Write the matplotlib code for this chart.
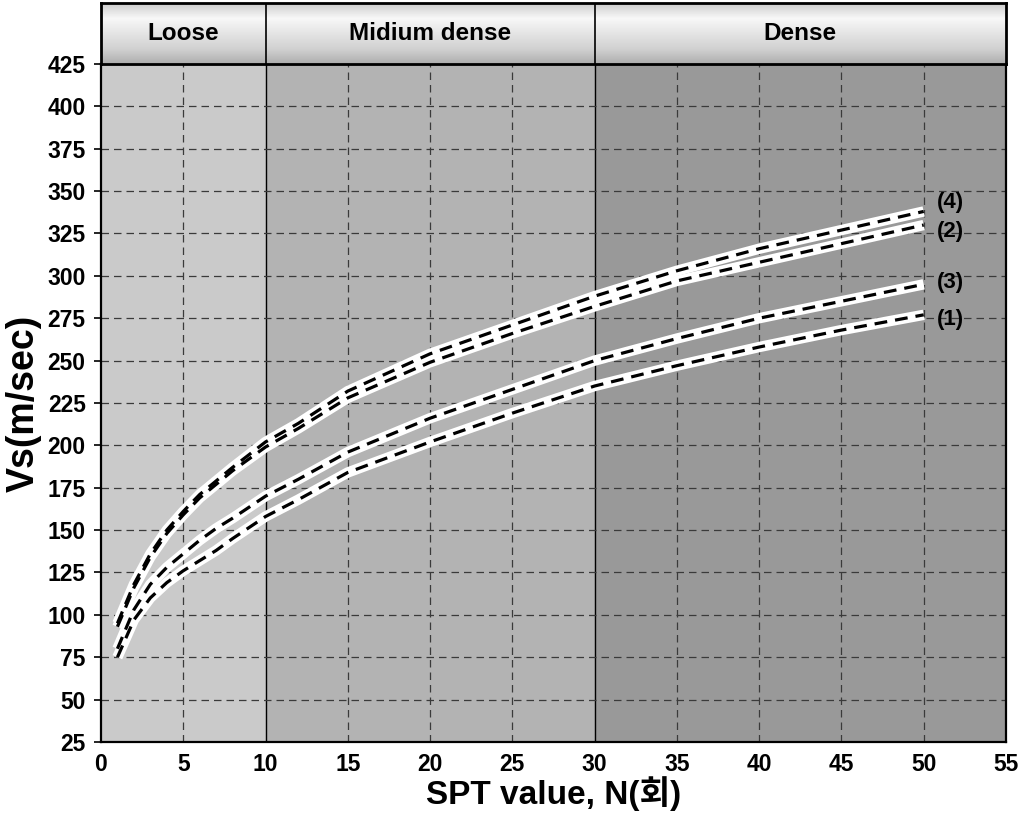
import numpy as np
import matplotlib
matplotlib.use("Agg")
import matplotlib.pyplot as plt

## Data

N = [1, 2, 3, 4, 5, 6, 7, 8, 10, 12, 15, 20, 25, 30, 35, 40, 45, 50]
vs1 = [75, 97, 110, 119, 126, 132, 138, 145, 158, 168, 184, 202, 219, 235, 247, 258, 268, 277]
vs2 = [93, 116, 134, 148, 159, 169, 177, 185, 199, 210, 228, 249, 266, 282, 297, 308, 319, 330]
vs3 = [80, 103, 118, 128, 136, 144, 151, 157, 170, 180, 196, 216, 233, 250, 263, 275, 285, 295]
vs4 = [95, 118, 136, 150, 161, 171, 179, 187, 202, 213, 232, 254, 271, 288, 303, 316, 327, 338]
curve_labels = ["(1)", "(2)", "(3)", "(4)"]
label_y = [274, 326, 296, 343]

zones = ["Loose", "Midium dense", "Dense"]
zone_edges = [0, 10, 30, 55]
zone_colors = ["#cacaca", "#b3b3b3", "#999999"]

plt.rcParams["font.family"] = ["Liberation Sans", "Noto Sans CJK KR", "DejaVu Sans"]

fig = plt.figure(figsize=(10.24, 8.14), dpi=100)
ax = fig.add_axes([0.0986, 0.0885, 0.8838, 0.8329])
hd = fig.add_axes([0.0986, 0.9214, 0.8838, 0.0749])

## zone backgrounds
for i in range(3):
    ax.axvspan(zone_edges[i], zone_edges[i + 1], color=zone_colors[i], zorder=0)
for e in zone_edges[1:3]:
    ax.axvline(e, color="black", lw=1.0, zorder=1)

ax.set_xlim(0, 55)
ax.set_ylim(25, 425)
ax.set_xticks(np.arange(0, 56, 5))
ax.set_yticks(np.arange(25, 426, 25))
for xv in np.arange(5, 55, 5):
    if xv not in (10, 30):
        ax.axvline(xv, color="#3a3a3a", lw=0.9, ls=(0, (6, 4)), zorder=1)
for yv in np.arange(50, 425, 25):
    ax.axhline(yv, color="#3a3a3a", lw=0.9, ls=(0, (6, 4)), zorder=1)

## curves: white casing + black dashes
for vs, lab, ly in zip([vs1, vs2, vs3, vs4], curve_labels, label_y):
    ax.plot(N, vs, color="white", lw=7.5, solid_capstyle="butt", zorder=3)
    ax.plot(N, vs, color="black", lw=2.3, ls=(0, (4, 2.5)), zorder=4)
    ax.text(50.8, ly, lab, fontsize=16, fontweight="bold",
            ha="left", va="center", zorder=5)

for s in ax.spines.values():
    s.set_linewidth(1.6)
ax.tick_params(axis="y", direction="out", length=5, width=1.2, labelsize=16.5, pad=6)
ax.tick_params(axis="x", direction="out", length=0, labelsize=16.5, pad=8)
for t in ax.get_yticklabels() + ax.get_xticklabels():
    t.set_fontweight("bold")

ax.set_xlabel("SPT value, N(회)", fontsize=24, fontweight="bold", labelpad=0)
ax.set_ylabel("Vs(m/sec)", fontsize=27, fontweight="bold", labelpad=4)

## header band with cylinder-like gradient
prof = np.interp(np.linspace(0, 1, 200), [0, 0.25, 0.75, 1.0], [0.80, 0.97, 0.82, 0.68])
grad = prof[:, None]
hd.set_xlim(0, 55)
hd.set_ylim(0, 1)
for i, name in enumerate(zones):
    x0, x1 = zone_edges[i], zone_edges[i + 1]
    hd.imshow(grad, extent=[x0, x1, 0, 1], cmap="gray", vmin=0, vmax=1,
              aspect="auto", origin="upper", zorder=1)
    hd.text((x0 + x1) / 2, 0.5, name, fontsize=17.5, fontweight="bold",
            ha="center", va="center", zorder=3)
for e in zone_edges[1:3]:
    hd.axvline(e, color="black", lw=1.2, zorder=2)
hd.set_xticks([])
hd.set_yticks([])
for s in hd.spines.values():
    s.set_linewidth(2.0)

fig.savefig("out.png", dpi=100)
